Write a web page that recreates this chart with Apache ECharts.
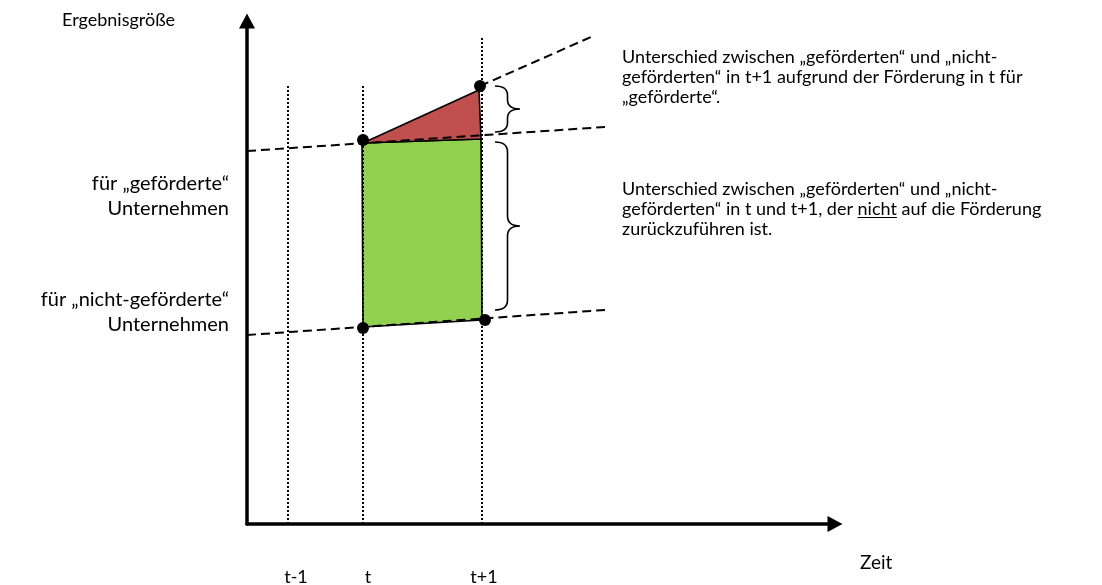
<!DOCTYPE html>
<html>
<head>
<meta charset="utf-8">
<script src="https://cdn.jsdelivr.net/npm/echarts@6/dist/echarts.min.js"></script>
<style>
html,body{margin:0;padding:0;background:#ffffff;}
#chart{width:1102px;height:585px;}
</style>
</head>
<body>
<div id="chart"></div>
<script>
// ---- Data (diagram units: x = time position, y = Ergebnisgröße) ----
const timeLabels = ['t-1', 't', 't+1'];
const timeX = [41, 116, 235];
const timeLineTop = [438, 438, 488];

const treatedPoints = [[116, 384], [233, 438]];      // „geförderte“ in t, t+1
const controlPoints = [[116, 196], [238, 204]];      // „nicht-geförderte“ in t, t+1

const treatedTrend = [[0, 373], [358, 397]];         // gestrichelt (kontrafaktisch)
const treatedExtension = [[233, 438], [344, 487]];   // Verlängerung der Entwicklung
const controlTrend = [[0, 189], [358, 214]];

const greenArea = [[115, 381], [234, 385], [235, 204], [116, 197]];
const redArea = [[116, 381], [232, 434], [234, 385]];

const braceTop = [438, 382];
const braceBottom = [392, 214];
const braceLeftX = 248;
const braceTipX = 273;

const yAxisTitle = 'Ergebnisgröße';
const xAxisTitle = 'Zeit';
const groupLabels = ['für „geförderte“\nUnternehmen', 'für „nicht-geförderte“\nUnternehmen'];
const groupLabelY = [328, 212];
const noteLines1 = ['Unterschied zwischen „geförderten“ und „nicht-', 'geförderten“ in t+1 aufgrund der Förderung in t für', '„geförderte“.'];
const noteLines2 = ['Unterschied zwischen „geförderten“ und „nicht-', 'geförderten“ in t und t+1, der nicht auf die Förderung', 'zurückzuführen ist.'];
const noteY = [447, 315];

// ---- Styles ----
const FONT = 'Lato';
const X_MAX = 588, Y_MAX = 503;

const chart = echarts.init(document.getElementById('chart'), null, {renderer: 'canvas'});

function measure(text, size) {
  const c = document.createElement('canvas').getContext('2d');
  c.font = size + 'px ' + FONT;
  return c.measureText(text).width;
}

function polygonSeries(points, color, z) {
  return {
    type: 'custom', z: z, silent: true,
    data: [[0]],
    renderItem: function (params, api) {
      return {
        type: 'polygon',
        shape: {points: points.map(p => api.coord(p))},
        style: {fill: color, stroke: '#000', lineWidth: 1.6, lineJoin: 'round'}
      };
    }
  };
}

function dashedSeries(data, z) {
  return {
    type: 'line', data: data, symbol: 'none', z: z, silent: true, clip: false,
    lineStyle: {color: '#000', width: 2, type: [9, 5]}
  };
}

const series = [];
series.push(polygonSeries(greenArea, '#92D050', 2));
series.push(polygonSeries(redArea, '#C0504D', 2));

timeX.forEach(function (x, i) {
  series.push({
    type: 'line', data: [[x, 0], [x, timeLineTop[i]]], symbol: 'none', z: 3, silent: true,
    lineStyle: {color: '#000', width: 2, type: [2, 2]}
  });
});

series.push(dashedSeries(treatedTrend, 4));
series.push(dashedSeries(treatedExtension, 4));
series.push(dashedSeries(controlTrend, 4));

series.push({
  type: 'scatter', data: treatedPoints.concat(controlPoints), symbol: 'circle', symbolSize: 12,
  itemStyle: {color: '#000', opacity: 1}, z: 6, silent: true
});

// Braces
series.push({
  type: 'custom', z: 5, silent: true,
  data: braceTop.map((t, i) => [t, braceBottom[i]]),
  renderItem: function (params, api) {
    const top = api.coord([braceLeftX, api.value(0)]);
    const bot = api.coord([braceLeftX, api.value(1)]);
    const tip = api.coord([braceTipX, 0]);
    const xa = top[0], xt = tip[0], xv = (xa + xt) / 2;
    const y1 = top[1], y2 = bot[1], ym = (y1 + y2) / 2;
    const r = Math.min(10, (y2 - y1) / 5);
    const d = 'M' + xa + ',' + y1 +
      ' Q' + xv + ',' + y1 + ' ' + xv + ',' + (y1 + r) +
      ' L' + xv + ',' + (ym - r) +
      ' Q' + xv + ',' + ym + ' ' + xt + ',' + ym +
      ' Q' + xv + ',' + ym + ' ' + xv + ',' + (ym + r) +
      ' L' + xv + ',' + (y2 - r) +
      ' Q' + xv + ',' + y2 + ' ' + xa + ',' + y2;
    return {type: 'path', shape: {pathData: d}, style: {fill: null, stroke: '#000', lineWidth: 1.6}};
  }
});

// Text annotations placed in diagram coordinates
const texts = [];
texts.push({x: -185, y: 504, text: yAxisTitle, size: 18, align: 'left', lh: 20});
texts.push({x: 613, y: -39, text: xAxisTitle, size: 19, align: 'left', lh: 20});
timeX.forEach(function (x, i) {
  texts.push({x: x + [8, 5, 2][i], y: -53, text: timeLabels[i], size: 18, align: 'center', lh: 20});
});
groupLabels.forEach(function (t, i) {
  texts.push({x: -18, y: groupLabelY[i], text: t, size: 20, align: 'right', lh: 25});
});
const NOTE_X = 375, NOTE_SIZE = 18, NOTE_LH = 20;
texts.push({x: NOTE_X, y: noteY[0], text: noteLines1.join('\n'), size: NOTE_SIZE, align: 'left', lh: NOTE_LH});
texts.push({x: NOTE_X, y: noteY[1], text: noteLines2.join('\n'), size: NOTE_SIZE, align: 'left', lh: NOTE_LH});

series.push({
  type: 'custom', z: 10, silent: true, clip: false,
  data: texts.map((t, i) => [t.x, t.y, i]),
  renderItem: function (params, api) {
    const t = texts[api.value(2)];
    const p = api.coord([api.value(0), api.value(1)]);
    return {
      type: 'text', x: p[0], y: p[1],
      style: {text: t.text, fill: '#000', font: t.size + 'px ' + FONT, align: t.align, verticalAlign: 'middle', lineHeight: t.lh}
    };
  }
});

// Underline for "nicht"
series.push({
  type: 'custom', z: 10, silent: true, clip: false,
  data: [[NOTE_X, noteY[1]]],
  renderItem: function (params, api) {
    const p = api.coord([api.value(0), api.value(1)]);
    const pre = measure('geförderten“ in t und t+1, der ', NOTE_SIZE);
    const w = measure('nicht', NOTE_SIZE);
    const y = Math.round(p[1] + 8) + 0.5;
    return {
      type: 'line',
      shape: {x1: p[0] + pre, y1: y, x2: p[0] + pre + w, y2: y},
      style: {stroke: '#000', lineWidth: 1}
    };
  }
});

const axisCommon = {
  type: 'value',
  axisTick: {show: false},
  axisLabel: {show: false},
  splitLine: {show: false},
  axisLine: {show: true, onZero: false, symbol: ['none', 'triangle'], symbolSize: [16, 15],
    lineStyle: {color: '#000', width: 3.5}}
};

chart.setOption({
  animation: false,
  backgroundColor: '#ffffff',
  grid: {left: 247, right: 267, top: 21, bottom: 61, containLabel: false},
  xAxis: Object.assign({}, axisCommon, {min: 0, max: X_MAX}),
  yAxis: Object.assign({}, axisCommon, {min: 0, max: Y_MAX}),
  series: series
});
</script>
</body>
</html>
